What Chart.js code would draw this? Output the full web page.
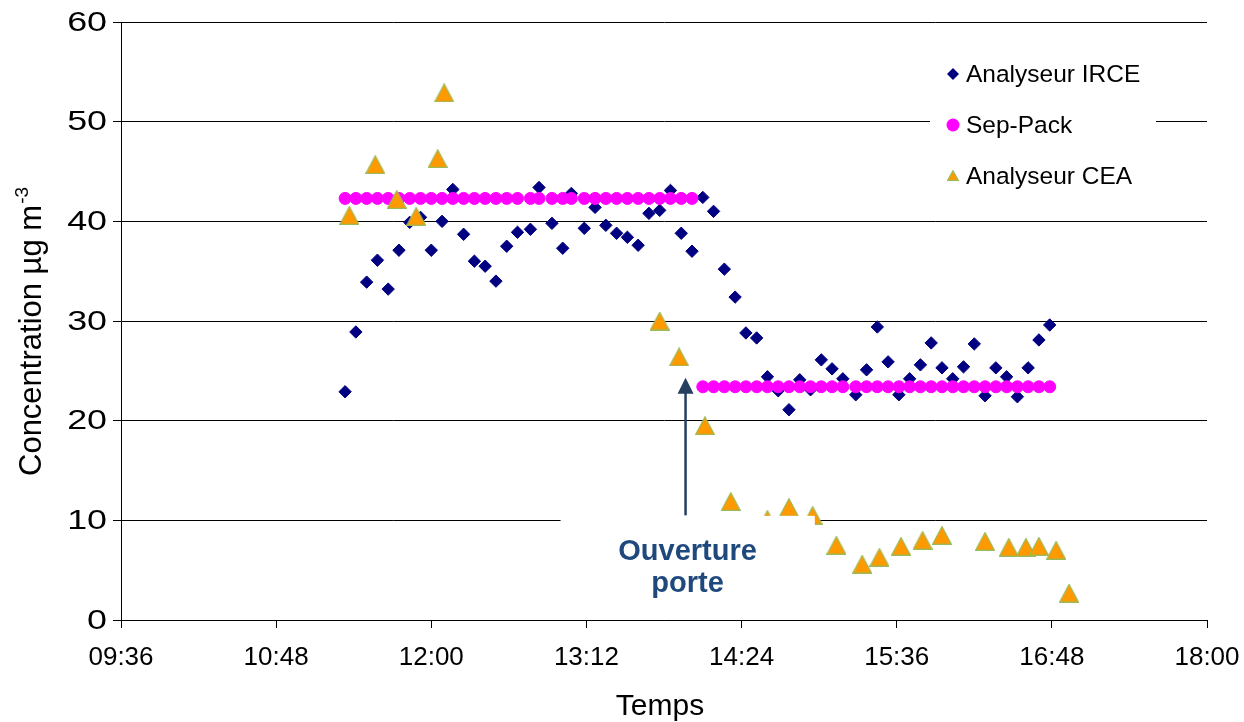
<!DOCTYPE html>
<html><head><meta charset="utf-8">
<script src="https://cdn.jsdelivr.net/npm/chart.js@4"></script>
<style>html,body{margin:0;padding:0;background:#fff;overflow:hidden}#wrap{position:relative;width:1244px;height:722px}</style>
</head><body><div id="wrap"><canvas id="c"></canvas></div>
<script>
// ---- data ----
const irceTimes = ['11:20','11:25','11:30','11:35','11:40','11:45','11:50','11:55','12:00','12:05','12:10','12:15','12:20','12:25','12:30','12:35','12:40','12:46','12:50','12:56','13:01','13:05','13:11','13:16','13:21','13:26','13:31','13:36','13:41','13:46','13:51','13:56','14:01','14:06','14:11','14:16','14:21','14:26','14:31','14:36','14:41','14:46','14:51','14:56','15:01','15:06','15:11','15:17','15:22','15:27','15:32','15:37','15:42','15:47','15:52','15:57','16:02','16:07','16:12','16:17','16:22','16:27','16:32','16:37','16:42','16:47'];
const irceValues = [22.9,28.9,33.9,36.1,33.2,37.1,39.9,40.4,37.1,40.0,43.2,38.7,36.0,35.5,34.0,37.5,38.9,39.2,43.4,39.8,37.3,42.8,39.3,41.4,39.6,38.8,38.4,37.6,40.8,41.1,43.1,38.8,37.0,42.4,41.0,35.2,32.4,28.8,28.3,24.4,23.0,21.1,24.1,23.1,26.1,25.2,24.2,22.6,25.1,29.4,25.9,22.6,24.2,25.6,27.8,25.3,24.2,25.4,27.7,22.5,25.3,24.4,22.4,25.3,28.1,29.6];
const sepPackTimes = ['11:20','11:25','11:30','11:35','11:40','11:45','11:50','11:55','12:00','12:05','12:10','12:15','12:20','12:25','12:30','12:35','12:40','12:46','12:50','12:56','13:01','13:05','13:11','13:16','13:21','13:26','13:31','13:36','13:41','13:46','13:51','13:56','14:01','14:06','14:11','14:16','14:21','14:26','14:31','14:36','14:41','14:46','14:51','14:56','15:01','15:06','15:11','15:17','15:22','15:27','15:32','15:37','15:42','15:47','15:52','15:57','16:02','16:07','16:12','16:17','16:22','16:27','16:32','16:37','16:42','16:47'];
const sepPackValues = [42.3,42.3,42.3,42.3,42.3,42.3,42.3,42.3,42.3,42.3,42.3,42.3,42.3,42.3,42.3,42.3,42.3,42.3,42.3,42.3,42.3,42.3,42.3,42.3,42.3,42.3,42.3,42.3,42.3,42.3,42.3,42.3,42.3,23.4,23.4,23.4,23.4,23.4,23.4,23.4,23.4,23.4,23.4,23.4,23.4,23.4,23.4,23.4,23.4,23.4,23.4,23.4,23.4,23.4,23.4,23.4,23.4,23.4,23.4,23.4,23.4,23.4,23.4,23.4,23.4,23.4];
const ceaTimes = ['11:22','11:34','11:44','11:53','12:03','12:06','13:46','13:55','14:07','14:19','14:36','14:46','14:57','15:08','15:20','15:28','15:38','15:48','15:57','16:17','16:28','16:36','16:42','16:50','16:56'];
const ceaValues = [40.6,45.7,42.2,40.5,46.3,52.9,30.0,26.4,19.5,11.9,10.1,11.3,10.5,7.5,5.6,6.3,7.4,8.0,8.5,7.9,7.3,7.3,7.4,7.0,2.7];
const seriesNames = ['Analyseur IRCE','Sep-Pack','Analyseur CEA'];
const xTickLabels = ['09:36','10:48','12:00','13:12','14:24','15:36','16:48','18:00'];
const yTickValues = [0,10,20,30,40,50,60];
const xAxisTitle = 'Temps';
const yAxisTitle = 'Concentration µg m';
const yAxisTitleSup = '-3';
const annotationLines = ['Ouverture','porte'];
const arrowTime = '13:58';
const arrowFrom = 10.5, arrowTo = 24.3;

// ---- helpers ----
const toMin = s => { const p = s.split(':').map(Number); return p[0]*60 + p[1]; };
const fmt = m => String(Math.floor(m/60)).padStart(2,'0') + ':' + String(Math.round(m%60)).padStart(2,'0');
const pts = (ts, vs) => ts.map((t,i) => ({x: toMin(t), y: vs[i]}));
const xMin = toMin(xTickLabels[0]), xMax = toMin(xTickLabels[xTickLabels.length-1]);

const FONT = '"Liberation Sans", Arial, sans-serif';
const NAVY = '#000080', PINK = '#FF00FF', ORANGE = '#FF9900', OLIVE = '#9BBB59';

function triCanvas(w, h) {
  const c = document.createElement('canvas');
  c.width = w; c.height = h;
  const g = c.getContext('2d');
  g.beginPath();
  g.moveTo(w/2, 0.7); g.lineTo(w-0.7, h-0.7); g.lineTo(0.7, h-0.7); g.closePath();
  g.fillStyle = ORANGE; g.fill();
  g.strokeStyle = OLIVE; g.lineWidth = 1.2; g.stroke();
  return c;
}
const triBig = triCanvas(20, 19);
const triSmall = triCanvas(12, 11);

const overlay = {
  id: 'overlay',
  afterDatasetsDraw(chart) {
    const ctx = chart.ctx, xs = chart.scales.x, ys = chart.scales.y, ca = chart.chartArea;
    ctx.save();
    const bx0 = xs.getPixelForValue(780), bx1 = xs.getPixelForValue(898);
    const by0 = ys.getPixelForValue(10.45), by1 = ys.getPixelForValue(1.6);
    ctx.fillStyle = '#fff';
    ctx.fillRect(bx0, by0, bx1 - bx0, by1 - by0);
    const ax = xs.getPixelForValue(toMin(arrowTime));
    const ay0 = ys.getPixelForValue(arrowFrom), ay1 = ys.getPixelForValue(arrowTo);
    ctx.strokeStyle = '#243F60'; ctx.fillStyle = '#243F60'; ctx.lineWidth = 2.5;
    ctx.beginPath(); ctx.moveTo(ax, ay0); ctx.lineTo(ax, ay1 + 14); ctx.stroke();
    ctx.beginPath(); ctx.moveTo(ax, ay1); ctx.lineTo(ax + 8, ay1 + 16); ctx.lineTo(ax - 8, ay1 + 16); ctx.closePath(); ctx.fill();
    ctx.fillStyle = '#1F497D';
    ctx.font = 'bold 29px ' + FONT;
    ctx.textAlign = 'center'; ctx.textBaseline = 'alphabetic';
    ctx.fillText(annotationLines[0], ax + 2, ys.getPixelForValue(10) + 40);
    ctx.fillText(annotationLines[1], ax + 2, ys.getPixelForValue(10) + 72);
    const lx = ca.right - 277, ly = ca.top + 28;
    ctx.fillStyle = '#fff';
    ctx.fillRect(lx, ly, 226, 150);
    const rows = [ly + 24, ly + 75, ly + 126];
    const mx = lx + 23;
    ctx.fillStyle = NAVY;
    ctx.beginPath(); ctx.moveTo(mx, rows[0]-6); ctx.lineTo(mx+6, rows[0]); ctx.lineTo(mx, rows[0]+6); ctx.lineTo(mx-6, rows[0]); ctx.closePath(); ctx.fill();
    ctx.fillStyle = PINK;
    ctx.beginPath(); ctx.arc(mx, rows[1], 6.5, 0, Math.PI*2); ctx.fill();
    ctx.drawImage(triSmall, mx - 6, rows[2] - 6);
    ctx.fillStyle = '#000';
    ctx.font = '24.5px ' + FONT;
    ctx.textAlign = 'left'; ctx.textBaseline = 'middle';
    seriesNames.forEach((n, i) => ctx.fillText(n, mx + 13, rows[i] + 1));
    ctx.restore();
  },
  afterDraw(chart) {
    const ctx = chart.ctx, ca = chart.chartArea, ys = chart.scales.y;
    ctx.save();
    ctx.fillStyle = '#000';
    // y tick labels (slightly wide, as in the reference)
    ctx.font = '28px ' + FONT;
    ctx.textAlign = 'right'; ctx.textBaseline = 'middle';
    yTickValues.forEach(v => {
      ctx.save();
      ctx.translate(ca.left - 14, ys.getPixelForValue(v) + 1);
      ctx.scale(1.28, 1);
      ctx.fillText(String(v), 0, 0);
      ctx.restore();
    });
    // x title
    ctx.font = '30px ' + FONT;
    ctx.textAlign = 'center'; ctx.textBaseline = 'alphabetic';
    ctx.fillText(xAxisTitle, (ca.left + ca.right)/2 - 4, 715);
    // y title
    ctx.translate(41, 476);
    ctx.rotate(-Math.PI/2);
    ctx.textAlign = 'left';
    ctx.font = '31px ' + FONT;
    ctx.fillText(yAxisTitle, 0, 0);
    const w = ctx.measureText(yAxisTitle).width;
    ctx.font = '19px ' + FONT;
    ctx.fillText(yAxisTitleSup, w + 1, -13);
    ctx.restore();
  }
};

new Chart(document.getElementById('c'), {
  type: 'scatter',
  data: {
    datasets: [
      { label: seriesNames[0], data: pts(irceTimes, irceValues), order: 3,
        pointStyle: 'rectRot', pointRadius: 6.2, pointHoverRadius: 6.2,
        backgroundColor: NAVY, borderColor: NAVY, borderWidth: 1 },
      { label: seriesNames[1], data: pts(sepPackTimes, sepPackValues), order: 2,
        pointStyle: 'circle', pointRadius: 6, pointHoverRadius: 6,
        backgroundColor: PINK, borderColor: PINK, borderWidth: 1 },
      { label: seriesNames[2], data: pts(ceaTimes, ceaValues), order: 1,
        pointStyle: triBig, pointRadius: 10, pointHoverRadius: 10,
        backgroundColor: ORANGE, borderColor: OLIVE }
    ]
  },
  options: {
    responsive: true, maintainAspectRatio: false, animation: false,
    events: [],
    layout: { padding: { left: 0, top: 22, right: 37, bottom: 0 } },
    plugins: { legend: { display: false }, tooltip: { enabled: false } },
    scales: {
      x: {
        type: 'linear', min: xMin, max: xMax,
        afterFit(s) { s.height = 102; s.paddingLeft = 0; s.paddingRight = 0; },
        afterBuildTicks(s) { s.ticks = xTickLabels.map(t => ({ value: toMin(t) })); },
        ticks: { callback: v => fmt(v), color: '#000', font: { family: FONT, size: 26 }, padding: 14, maxRotation: 0, autoSkip: false },
        grid: { drawOnChartArea: false, drawTicks: true, tickLength: 8, color: '#000', lineWidth: 1 },
        border: { display: true, color: '#000', width: 1 }
      },
      y: {
        type: 'linear', min: yTickValues[0], max: yTickValues[yTickValues.length-1],
        afterFit(s) { s.width = 121; s.paddingTop = 0; s.paddingBottom = 0; },
        afterBuildTicks(s) { s.ticks = yTickValues.map(v => ({ value: v })); },
        ticks: { display: false },
        grid: { drawOnChartArea: true, drawTicks: true, tickLength: 8, color: '#000', lineWidth: 1 },
        border: { display: true, color: '#000', width: 1 }
      }
    }
  },
  plugins: [overlay]
});
</script></body></html>
